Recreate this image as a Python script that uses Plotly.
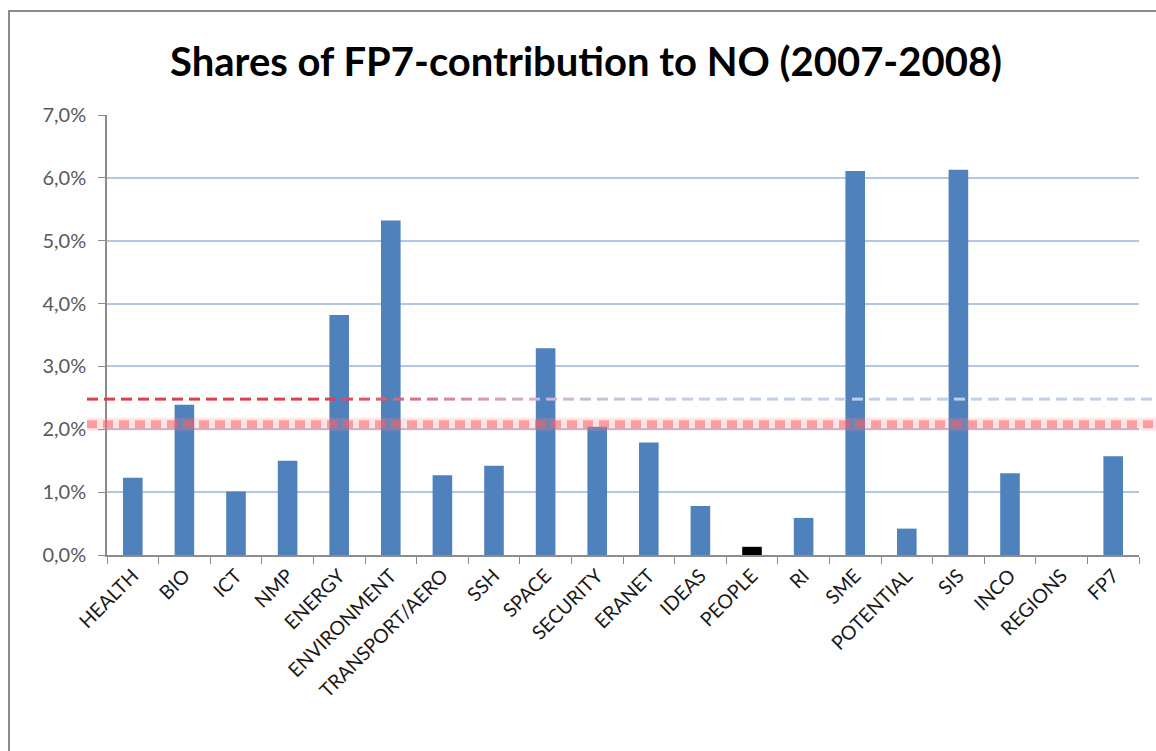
import plotly.graph_objects as go

categories = ["HEALTH", "BIO", "ICT", "NMP", "ENERGY", "ENVIRONMENT", "TRANSPORT/AERO",
              "SSH", "SPACE", "SECURITY", "ERANET", "IDEAS", "PEOPLE", "RI", "SME",
              "POTENTIAL", "SIS", "INCO", "REGIONS", "FP7"]
shares = [0.0123, 0.0239, 0.0101, 0.0150, 0.0382, 0.0532, 0.0127,
          0.0142, 0.0329, 0.0204, 0.0179, 0.0078, 0.0013, 0.0059, 0.0611,
          0.0042, 0.0613, 0.0130, 0.0, 0.0157]
highlight = "PEOPLE"
dashed_level = 0.0248
band_level = 0.0208
y_ticks = [0, 0.01, 0.02, 0.03, 0.04, 0.05, 0.06, 0.07]

BLUE = "#4F81BD"
bar_colors = ["#000000" if c == highlight else BLUE for c in categories]

W, H = 1156, 751
L, R, T, B = 107, 17, 115, 196
PW = W - L - R
PH = H - T - B

def px_to_paper(px):
    return (px - L) / PW

def py_to_paper(py):
    return (H - B - py) / PH

fig = go.Figure()
fig.add_trace(go.Bar(
    x=categories, y=shares,
    marker=dict(color=bar_colors, line=dict(width=0)),
    width=0.38,
    hoverinfo="x+y",
))

shapes = []
# border frame of the chart
shapes.append(dict(type="rect", xref="paper", yref="paper",
                   x0=px_to_paper(9), x1=px_to_paper(1175),
                   y0=py_to_paper(775), y1=py_to_paper(11),
                   line=dict(color="#8C8C8C", width=2), fillcolor="rgba(0,0,0,0)", layer="below"))

def lerp(c1, c2, t):
    return tuple(round(a + (b - a) * t) for a, b in zip(c1, c2))

red = (222, 62, 78)
mid = (210, 175, 205)
light = (192, 207, 236)

# pale band
shapes.append(dict(type="line", xref="paper", yref="y",
                   x0=px_to_paper(87), x1=px_to_paper(1156),
                   y0=band_level, y1=band_level,
                   line=dict(color="rgba(255,140,140,0.22)", width=13), layer="above"))
x = 87
while x < 1156:
    shapes.append(dict(type="line", xref="paper", yref="y",
                       x0=px_to_paper(x), x1=px_to_paper(min(x + 10, 1156)),
                       y0=band_level, y1=band_level,
                       line=dict(color="rgba(250,95,100,0.55)", width=8), layer="above"))
    x += 16

# gradient dashed line
x = 87
while x < 1156:
    if x < 320:
        c = red
    elif x < 520:
        c = lerp(red, mid, (x - 320) / 200)
    elif x < 700:
        c = lerp(mid, light, (x - 520) / 180)
    else:
        c = light
    shapes.append(dict(type="line", xref="paper", yref="y",
                       x0=px_to_paper(x), x1=px_to_paper(min(x + 11, 1156)),
                       y0=dashed_level, y1=dashed_level,
                       line=dict(color="rgb(%d,%d,%d)" % c, width=3), layer="above"))
    x += 17

fig.update_layout(
    width=W, height=H,
    margin=dict(l=L, r=R, t=T, b=B),
    paper_bgcolor="white", plot_bgcolor="white",
    separators=", ",
    showlegend=False,
    bargap=0.62,
    title=dict(text="<b>Shares of FP7-contribution to NO (2007-2008)</b>",
               x=0.507, xanchor="center", y=1 - 62 / H, yanchor="middle",
               font=dict(family="Lato", size=40, color="#000000")),
    font=dict(family="Lato"),
    shapes=shapes,
)
fig.update_yaxes(range=[0, 0.07], tickvals=y_ticks, tickformat=".1%",
                 showgrid=True, gridcolor="#B3C6E6", gridwidth=1.5,
                 showline=True, linecolor="#8C8C8C", linewidth=1.5,
                 ticks="outside", ticklen=7, tickcolor="#8C8C8C",
                 ticklabelstandoff=8,
                 tickfont=dict(family="Lato", size=20, color="#595959"),
                 zeroline=False, automargin=False)
fig.update_xaxes(tickangle=-45, tickson="boundaries", ticks="outside", ticklen=7,
                 tickcolor="#8C8C8C", showline=True, linecolor="#8C8C8C", linewidth=1.5,
                 tickfont=dict(family="Lato", size=19.5, color="#1A1A1A"),
                 showgrid=False, automargin=False)

fig.write_html("out.html", config={"displayModeBar": False},
               post_script="document.body.style.margin='0';document.body.style.overflow='hidden';")
